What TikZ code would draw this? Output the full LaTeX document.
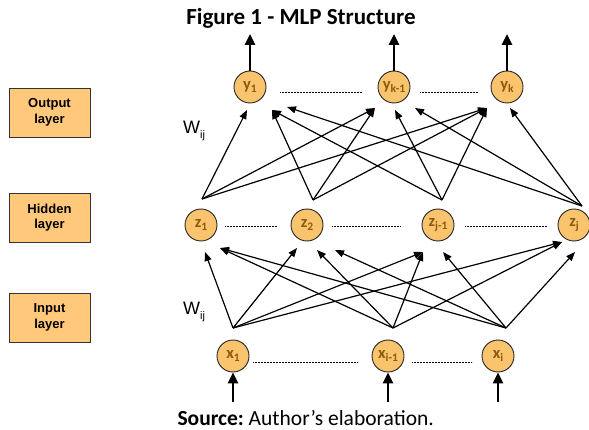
\documentclass[tikz,border=0pt]{standalone}
\usepackage{fontspec}
\setmainfont{Carlito}
\newfontfamily\arialfont{Liberation Sans}
\usetikzlibrary{arrows.meta,calc}
\definecolor{nodefill}{HTML}{FAC46F}
\definecolor{boxfill}{HTML}{FFC87A}
\definecolor{labelbrown}{HTML}{8B5A0A}
% lowered, smaller index for neuron names and weights
\newcommand{\lsub}[1]{\raisebox{-0.3ex}{\fontsize{11.5}{11.5}\selectfont #1}}
\newcommand{\wsub}[1]{\raisebox{-0.45ex}{\fontsize{11}{11}\selectfont #1}}
\begin{document}
\begin{tikzpicture}[x=1pt,y=-1pt,
  neuron/.style={circle, draw=black!85, line width=0.9pt, fill=nodefill,
    minimum size=32pt, inner sep=0pt,
    font=\bfseries\fontsize{16.5}{16.5}\selectfont, text=labelbrown},
  layerbox/.style={draw=black!80, line width=0.9pt, fill=boxfill,
    minimum width=81pt, minimum height=49pt, align=center,
    font=\arialfont\bfseries\fontsize{13}{15.5}\selectfont},
  weight/.style={line width=1.2pt, -{Triangle[length=9pt,width=7pt]}},
  flow/.style={line width=2.6pt, -{Triangle[length=11pt,width=10pt]}},
  dots/.style={line width=1pt, dash pattern=on 0.8pt off 0.7pt},
  wlabel/.style={anchor=west, inner sep=0pt, font=\arialfont\fontsize{18}{18}\selectfont},
]
\useasboundingbox (0,0) rectangle (589,430);

% title and source
\node[font=\bfseries\fontsize{23}{23}\selectfont] (title) at (301,18) {Figure 1 - MLP Structure};
\node[anchor=west, font=\fontsize{21.5}{21.5}\selectfont] (source) at (174,418) {\textbf{Source:}~Author’s elaboration.};

% layer legend
\node[layerbox] (outbox) at (49.5,112.5) {Output\\layer};
\node[layerbox] (hidbox) at (49.5,217.5) {Hidden\\layer};
\node[layerbox] (inbox)  at (49.5,317.5) {Input\\layer};

% neurons
\node[neuron] (y1)  at (250,87) {y\lsub{1}};
\node[neuron] (yk1) at (394,87) {y\lsub{k-1}};
\node[neuron] (yk)  at (507,87) {y\lsub{k}};
\node[neuron] (z1)  at (201,225) {z\lsub{1}};
\node[neuron] (z2)  at (307,225) {z\lsub{2}};
\node[neuron] (zj1) at (438,225) {z\lsub{j-1}};
\node[neuron] (zj)  at (574,225) {z\lsub{j}};
\node[neuron] (x1)  at (233,356) {x\lsub{1}};
\node[neuron] (xi1) at (388,356) {x\lsub{i-1}};
\node[neuron] (xi)  at (498,356) {x\lsub{i}};

% weight labels
\node[wlabel] (w1) at (183,131) {W\wsub{ij}};
\node[wlabel] (w2) at (183,312) {W\wsub{ij}};

% dotted continuation lines
\draw[dots] ($(y1)+(30,6)$) -- ($(yk1)+(-32,6)$);
\draw[dots] ($(yk1)+(26,6)$) -- ($(yk)+(-29,6)$);
\draw[dots] ($(z1)+(24,2)$) -- ($(z2)+(-30,2)$);
\draw[dots] ($(z2)+(25,2)$) -- ($(zj1)+(-38,2)$);
\draw[dots] ($(zj1)+(27,2)$) -- ($(zj)+(-27,2)$);
\draw[dots] ($(x1)+(20,6)$) -- ($(xi1)+(-30,6)$);
\draw[dots] ($(xi1)+(24,6)$) -- ($(xi)+(-26,6)$);

% outputs and inputs
\coordinate (y1o)  at (250,34);
\coordinate (yk1o) at (394,34);
\coordinate (yko)  at (507,34);
\coordinate (x1i)  at (233,402);
\coordinate (xi1i) at (388,402);
\coordinate (xii)  at (498,402);
\draw[flow] (y1) -- (y1o);
\draw[flow] (yk1) -- (yk1o);
\draw[flow] (yk) -- (yko);
\draw[flow] (x1i) -- (x1);
\draw[flow] (xi1i) -- (xi1);
\draw[flow] (xii) -- (xi);

% hidden -> output connection points
\coordinate (z1t)  at (202,199);
\coordinate (z2t)  at (313,200);
\coordinate (zj1t) at (442,200);
\coordinate (zjt)  at (582,206);
\coordinate (a1) at (247,110);
\coordinate (a2) at (272,110);
\coordinate (a3) at (287,107);
\coordinate (b1) at (375,108);
\coordinate (b2) at (395,110);
\coordinate (b3) at (415,108);
\coordinate (c1) at (487,108);
\coordinate (c2) at (510,108);

\draw[weight] (z1t) -- (a1);
\draw[weight] (z2t) -- (a2);
\draw[weight] (zj1t) -- (a2);
\draw[weight] (zjt) -- (a3);
\draw[weight] (z1t) -- (b1);
\draw[weight] (z2t) -- (b1);
\draw[weight] (zj1t) -- (b2);
\draw[weight] (zjt) -- (b3);
\draw[weight] (z1t) -- (c1);
\draw[weight] (z2t) -- (c1);
\draw[weight] (zj1t) -- (c1);
\draw[weight] (zjt) -- (c2);

% input -> hidden connection points
\coordinate (x1t)  at (233,328);
\coordinate (xi1t) at (393,328);
\coordinate (xit)  at (506,328);
\coordinate (p1) at (205,252);
\coordinate (p2) at (220,248);
\coordinate (q1) at (297,248);
\coordinate (q2) at (317,250);
\coordinate (q3) at (335,250);
\coordinate (r1) at (423,252);
\coordinate (r2) at (443,252);
\coordinate (s1) at (562,242);
\coordinate (s2) at (575,252);

\draw[weight] (x1t) -- (p1);
\draw[weight] (xi1t) -- (p2);
\draw[weight] (xit) -- (p2);
\draw[weight] (x1t) -- (q1);
\draw[weight] (xi1t) -- (q2);
\draw[weight] (xit) -- (q3);
\draw[weight] (x1t) -- (r1);
\draw[weight] (xi1t) -- (r1);
\draw[weight] (xit) -- (r2);
\draw[weight] (x1t) -- (s1);
\draw[weight] (xi1t) -- (s1);
\draw[weight] (xit) -- (s2);
\end{tikzpicture}
\end{document}
